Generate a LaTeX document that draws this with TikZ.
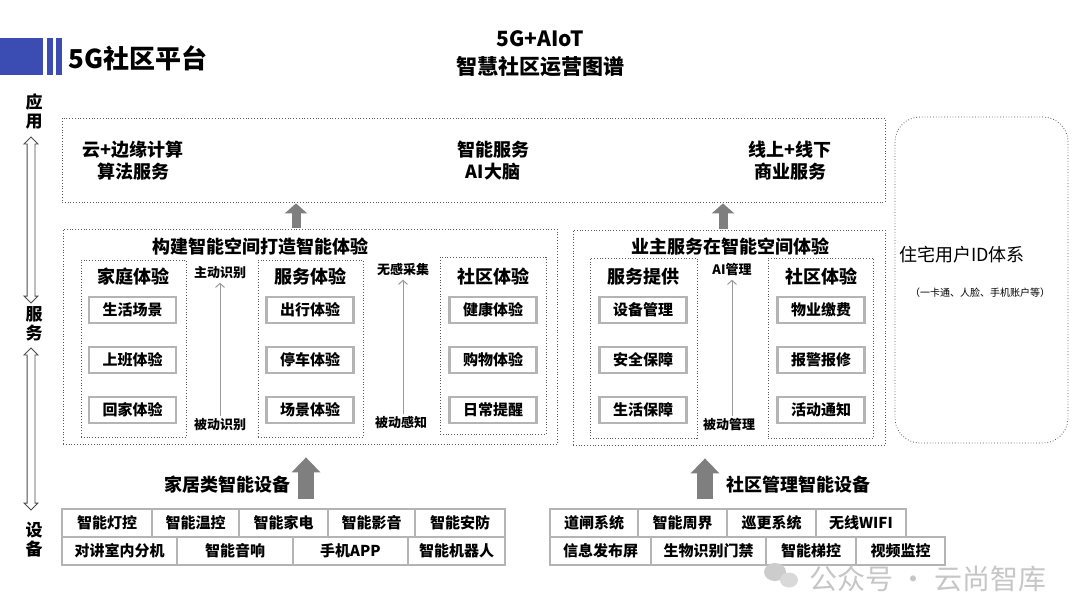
\documentclass[tikz,border=0pt]{standalone}
\usepackage{fontspec}
\setmainfont{Noto Sans CJK SC}
\usepackage{tikz}
\usetikzlibrary{arrows.meta,positioning,shapes.arrows}
\definecolor{HeadBlue}{HTML}{3B4DB3}
\definecolor{ArrowGray}{HTML}{7F7F7F}
\definecolor{CellGray}{HTML}{B4B4B4}

\begin{document}
\begin{tikzpicture}[x=1pt,y=-1pt,
    dotbox/.style={draw=black!65,dotted,line width=.8pt},
    itembox/.style={draw=CellGray,line width=2.5pt,fill=white,minimum width=87pt,minimum height=26pt,inner sep=0pt,font=\fontsize{15}{15}\selectfont\bfseries},
    cell/.style={draw=CellGray,line width=2pt,fill=white,minimum height=28pt,inner sep=0pt,font=\fontsize{15}{15}\selectfont\bfseries},
    heading/.style={font=\fontsize{18}{22}\selectfont\bfseries,align=center},
    tag/.style={font=\fontsize{13}{13}\selectfont\bfseries},
    layer/.style={font=\fontsize{17}{19}\selectfont\bfseries,align=center},
    thinarrow/.style={draw=gray!80,line width=1pt,-{Straight Barb[length=4pt,width=9pt]}},
    blockarrow/.style={draw=ArrowGray,line width=16pt,-{Triangle[length=15pt,width=28pt]}},
    smallarrow/.style={draw=ArrowGray,line width=9pt,-{Triangle[length=10pt,width=22pt]}},
    layerarrow/.style={double arrow,draw=black!70,fill=white,line width=.8pt,inner xsep=0pt,inner ysep=3.5pt,double arrow head extend=3pt,rotate=90}]
  \useasboundingbox[fill=white] (0,0) rectangle (1080,608);

  % header
  \fill[HeadBlue] (0,38) rectangle (43,75);
  \fill[HeadBlue] (47,38) rectangle (53,75);
  \fill[HeadBlue] (56,38) rectangle (62,75);
  \node[anchor=west,font=\fontsize{26}{26}\selectfont\bfseries] (brand) at (65,58) {5G社区平台};
  \node[font=\fontsize{21}{28}\selectfont\bfseries,align=center] (title) at (540,54) {5G+AIoT\\智慧社区运营图谱};

  % layers on the left
  \node[layer] (lapp) at (34,111) {应\\用};
  \node[layer] (lsvc) at (34,324) {服\\务};
  \node[layer] (ldev) at (34,540) {设\\备};
  \node[layerarrow,minimum height=166pt] (appsvc) at (31,220) {};
  \node[layerarrow,minimum height=162pt] (svcdev) at (31,429) {};

  % application layer
  \node[dotbox,minimum width=823pt,minimum height=84pt] (app) at (473.5,160) {};
  \node[heading] (cloud) at (133,161) {云+边缘计算\\算法服务};
  \node[heading] (brain) at (493,161) {智能服务\\AI大脑};
  \node[heading] (online) at (790,161) {线上+线下\\商业服务};

  % user id system
  \node[dotbox,rounded corners=25pt,minimum width=173pt,minimum height=326pt] (idsys) at (981.5,280) {};
  \node[font=\fontsize{18}{18}\selectfont] (idname) at (962,255) {住宅用户ID体系};
  \node[font=\fontsize{10}{10}\selectfont] (idnote) at (980,293) {（一卡通、人脸、手机账户等）};

  % service layer, left
  \node[dotbox,minimum width=494pt,minimum height=215pt] (svcL) at (310,336.5) {};
  \node[heading] (svcLname) at (260,247) {构建智能空间打造智能体验};
  \node[dotbox,minimum width=105pt,minimum height=177pt] (home) at (133.5,348.5) {};
  \node[heading] (homename) at (133,277) {家庭体验};
  \node[itembox] (h1) at (132.5,310) {生活场景};
  \node[itembox] (h2) at (132.5,360) {上班体验};
  \node[itembox] (h3) at (132.5,410) {回家体验};
  \node[tag] (act1) at (220,273) {主动识别};
  \node[tag] (pas1) at (220,425) {被动识别};
  \draw[thinarrow,shorten <=-1pt] (pas1) -- (act1);
  \node[dotbox,minimum width=105pt,minimum height=177pt] (serv) at (310.5,348.5) {};
  \node[heading] (servname) at (310,277) {服务体验};
  \node[itembox] (s1) at (310,310) {出行体验};
  \node[itembox] (s2) at (310,360) {停车体验};
  \node[itembox] (s3) at (310,410) {场景体验};
  \node[tag] (act2) at (403,270) {无感采集};
  \node[tag] (pas2) at (401,423) {被动感知};
  \draw[thinarrow,shorten <=-1pt] (pas2.north -| act2) -- (act2);
  \node[dotbox,minimum width=106pt,minimum height=177pt] (comm) at (493,345.5) {};
  \node[heading] (commname) at (493,277) {社区体验};
  \node[itembox] (c1) at (493,310) {健康体验};
  \node[itembox] (c2) at (493,360) {购物体验};
  \node[itembox] (c3) at (493,410) {日常提醒};

  % service layer, right
  \node[dotbox,minimum width=312pt,minimum height=215pt] (svcR) at (729,337.5) {};
  \node[heading] (svcRname) at (730,247) {业主服务在智能空间体验};
  \node[dotbox,minimum width=107pt,minimum height=180pt] (prov) at (643.5,348) {};
  \node[heading] (provname) at (643,277) {服务提供};
  \node[itembox] (p1) at (643,310) {设备管理};
  \node[itembox] (p2) at (643,360) {安全保障};
  \node[itembox] (p3) at (643,410) {生活保障};
  \node[tag] (act3) at (732,270) {AI管理};
  \node[tag] (pas3) at (729,425) {被动管理};
  \draw[thinarrow,shorten <=-1pt] (pas3.north -| act3) -- (act3);
  \node[dotbox,minimum width=105pt,minimum height=180pt] (owner) at (820.5,348) {};
  \node[heading] (ownername) at (821,277) {社区体验};
  \node[itembox] (o1) at (821,310) {物业缴费};
  \node[itembox] (o2) at (821,360) {报警报修};
  \node[itembox] (o3) at (821,410) {活动通知};

  % arrows up to the application layer
  \coordinate (upL) at (296,228);
  \coordinate (upR) at (723,229);
  \draw[smallarrow,shorten >=1pt] (upL) -- (upL |- app.south);
  \draw[smallarrow,shorten >=1pt] (upR) -- (upR |- app.south);

  % home devices
  \node[heading] (homedev) at (227,485) {家居类智能设备};
  \coordinate (devL) at (306,499);
  \draw[blockarrow,shorten >=13pt] (devL) -- (devL |- svcL.south);
  \node[cell,minimum width=90pt] (d1) at (107,523) {智能灯控};
  \node[cell,minimum width=87pt] (d2) at (195.5,523) {智能温控};
  \node[cell,minimum width=89pt] (d3) at (283.5,523) {智能家电};
  \node[cell,minimum width=87pt] (d4) at (371.5,523) {智能影音};
  \node[cell,minimum width=90pt] (d5) at (460,523) {智能安防};
  \node[cell,minimum width=115pt] (d6) at (119.5,551) {对讲室内分机};
  \node[cell,minimum width=116pt] (d7) at (235,551) {智能音响};
  \node[cell,minimum width=115pt] (d8) at (350.5,551) {手机APP};
  \node[cell,minimum width=97pt] (d9) at (456.5,551) {智能机器人};

  % community devices
  \node[heading] (commdev) at (798,485) {社区管理智能设备};
  \coordinate (devR) at (705,499);
  \draw[blockarrow,shorten >=13pt] (devR) -- (devR |- svcR.south);
  \node[cell,minimum width=88pt] (e1) at (594,523) {道闸系统};
  \node[cell,minimum width=89pt] (e2) at (682.5,523) {智能周界};
  \node[cell,minimum width=89pt] (e3) at (771.5,523) {巡更系统};
  \node[cell,minimum width=90pt] (e4) at (861,523) {无线WIFI};
  \node[cell,minimum width=101pt] (e5) at (600.5,551) {信息发布屏};
  \node[cell,minimum width=115pt] (e6) at (708.5,551) {生物识别门禁};
  \node[cell,minimum width=90pt] (e7) at (811,551) {智能梯控};
  \node[cell,minimum width=89pt] (e8) at (900.5,551) {视频监控};

  % watermark
  \fill[gray!40] (775,572) ellipse (11 and 9);
  \fill[gray!30] (789,580) ellipse (9 and 7.5);
  \node[text=gray!45,font=\fontsize{28}{28}\selectfont,anchor=west] (mark) at (806,579) {公众号 · 云尚智库};
\end{tikzpicture}
\end{document}
